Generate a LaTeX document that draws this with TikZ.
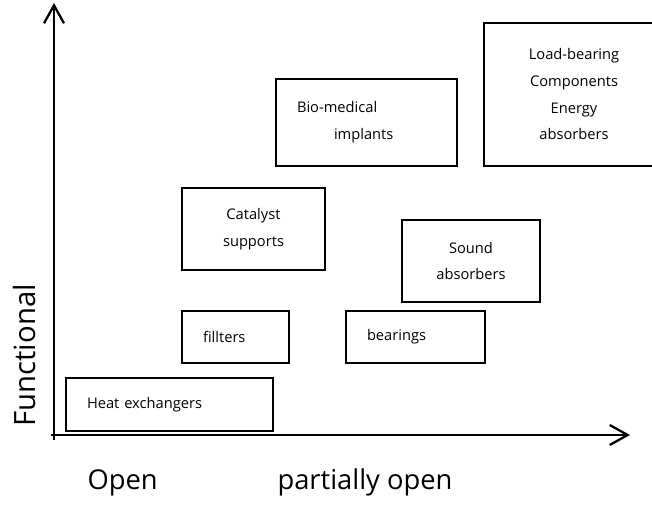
\documentclass[tikz,border=0pt]{standalone}
\usepackage{fontspec}
\setmainfont{Open Sans}
\usetikzlibrary{arrows.meta,positioning}

\tikzset{every picture/.style={line width=0.75pt}}
\tikzset{
  bx/.style={draw, line width=1.3pt, inner sep=0pt, align=center, font=\fontsize{11}{20}\selectfont},
  lbx/.style={bx, align=left, inner xsep=15.75pt},
  axisline/.style={line width=1.7pt, -{Straight Barb[length=13.5pt,width=15pt,line width=1.7pt]}},
  axlabel/.style={inner sep=0pt, font=\fontsize{20.5}{24}\selectfont}
}

\begin{document}
\begin{tikzpicture}[x=0.75pt,y=0.75pt,yscale=-1,xscale=1]
	\useasboundingbox (0,0) rectangle (652,506);

	%Axes
	\coordinate (ybot) at (54,440);
	\coordinate (ytip) at (54,3);
	\coordinate (xstart) at (51,435);
	\coordinate (xtip) at (630,435);
	\draw [axisline] (ybot) -- (ytip);
	\draw [axisline] (xstart) -- (xtip);

	%Boxes
	\node [lbx, text width=123.75pt, minimum height=39.75pt] (heat) at (169.5,404.5) {Heat exchangers};
	\node [lbx, text width=48.75pt, minimum height=39pt] (filter) at (235.5,337) {fillters};
	\node [lbx, text width=72.75pt, minimum height=39pt] (bearing) at (415.5,337) {bearings};
	\node [bx, minimum width=107.25pt, minimum height=61.5pt] (catalyst) at (253.5,229) {Catalyst\\supports};
	\node [bx, minimum width=103.5pt, minimum height=61.5pt] (sound) at (471,261) {Sound\\absorbers};
	\node [lbx, text width=104.25pt, minimum height=65.25pt] (implant) at (366.5,122.5) {Bio-medical\\\hspace*{27.75pt}implants};
	\node [bx, minimum width=135pt, minimum height=107.25pt] (load) at (574,94.5) {Load-bearing\\Components\\Energy\\absorbers};

	% Text Node
	\node [axlabel, font=\fontsize{22}{26}\selectfont, rotate=90, anchor=base west] (func) at (35,427) {Functional};
	% Text Node
	\node [axlabel, anchor=base west] (open) at (87,489) {Open};
	% Text Node
	\node [axlabel, anchor=base west] (popen) at (277,489) {partially open};

\end{tikzpicture}
\end{document}
